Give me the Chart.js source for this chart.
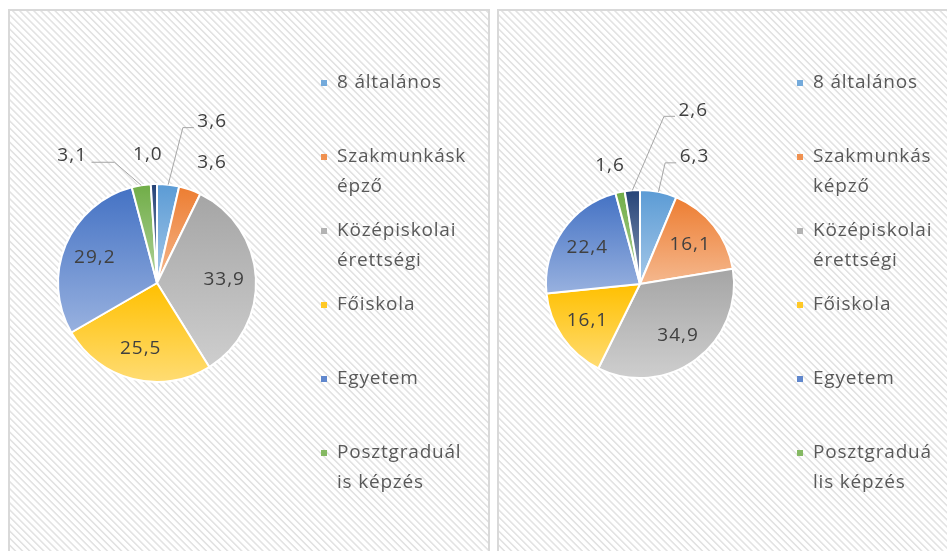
<!DOCTYPE html>
<html><head><meta charset="utf-8">
<script src="https://cdn.jsdelivr.net/npm/chart.js@4/dist/chart.umd.min.js"></script>
<style>
html,body{margin:0;padding:0;background:#fff;width:947px;height:551px;overflow:hidden;position:relative;}
.panel{position:absolute;top:9px;height:560px;border:2px solid #d9d9d9;
  background:repeating-linear-gradient(45deg,#ffffff 0px,#ffffff 1.8px,#e3e3e3 2.6px,#e3e3e3 3.4px,#ffffff 4.2px,#ffffff 5px);}
#p1{left:8px;width:478px;}
#p2{left:497px;width:460px;}
canvas{position:absolute;left:0;top:0;}
</style></head><body>
<div class="panel" id="p1"><canvas id="c1" width="478" height="540"></canvas></div>
<div class="panel" id="p2"><canvas id="c2" width="448" height="540"></canvas></div>
<script>
// ---- data ----
const categories = ['8 általános','Szakmunkásképző','Középiskolai érettségi','Főiskola','Egyetem','Posztgraduális képzés','Egyéb'];
const valuesLeft  = [3.6, 3.6, 33.9, 25.5, 29.2, 3.1, 1.0];
const valuesRight = [6.3, 16.1, 34.9, 16.1, 22.4, 1.6, 2.6];
const legendLeft  = [['8 általános'],['Szakmunkásk','épző'],['Középiskolai','érettségi'],['Főiskola'],['Egyetem'],['Posztgraduál','is képzés']];
const legendRight = [['8 általános'],['Szakmunkás','képző'],['Középiskolai','érettségi'],['Főiskola'],['Egyetem'],['Posztgraduá','lis képzés']];
const colors = ['#5B9BD5','#ED7D31','#A5A5A5','#FFC000','#4472C4','#70AD47','#264478'];
// label placement for small slices (nudge from slice edge midpoint)
const outsideLeft  = {0:{dx:44,dy:-63,leader:true},1:{dx:22,dy:-27},5:{dx:-69,dy:-30,leader:true},6:{dx:-6,dy:-29}};
const outsideRight = {0:{dx:36,dy:-35,leader:true},5:{dx:-10,dy:-27},6:{dx:61,dy:-80,leader:true}};

function fmt(v){ return v.toFixed(1).replace('.', ','); }
function lighten(hex, t){
  const n = parseInt(hex.slice(1),16); const r=n>>16, g=(n>>8)&255, b=n&255;
  const f=c=>Math.round(c+(255-c)*t); return 'rgb('+f(r)+','+f(g)+','+f(b)+')';
}

const excelPie = {
  id:'excelPie',
  beforeDatasetsDraw(chart){
    const ctx = chart.ctx, meta = chart.getDatasetMeta(0);
    meta.data.forEach((arc,i)=>{
      const p = arc.getProps(['x','y','startAngle','endAngle','outerRadius']);
      const ys=[p.y, p.y+p.outerRadius*Math.sin(p.startAngle), p.y+p.outerRadius*Math.sin(p.endAngle)];
      for (const a of [-Math.PI/2, Math.PI/2, 3*Math.PI/2]) if (a>=p.startAngle && a<=p.endAngle) ys.push(p.y+p.outerRadius*Math.sin(a));
      const y0=Math.min(...ys), y1=Math.max(...ys);
      const g = ctx.createLinearGradient(0,y0,0,y1+0.01);
      g.addColorStop(0, colors[i]); g.addColorStop(1, lighten(colors[i],0.45));
      arc.options.backgroundColor = g;
    });
  },
  afterDatasetsDraw(chart, args, opts){
    const ctx = chart.ctx, meta = chart.getDatasetMeta(0), vals = chart.data.datasets[0].data;
    ctx.save();
    ctx.font = '19px "Open Sans"'; ctx.letterSpacing = '1px';
    ctx.textAlign='center'; ctx.textBaseline='middle';
    meta.data.forEach((arc,i)=>{
      const p = arc.getProps(['x','y','startAngle','endAngle','outerRadius']);
      const mid=(p.startAngle+p.endAngle)/2, R=p.outerRadius;
      const txt=fmt(vals[i]);
      const o=opts.outside[i];
      ctx.fillStyle='#404040';
      if(!o){ ctx.fillText(txt, p.x+Math.cos(mid)*R*0.68, p.y+Math.sin(mid)*R*0.68); return; }
      const ex=p.x+Math.cos(mid)*R, ey=p.y+Math.sin(mid)*R;
      const lx=ex+o.dx, ly=ey+o.dy;
      ctx.fillText(txt, lx, ly);
      if(o.leader){
        const w=ctx.measureText(txt).width-1;
        ctx.strokeStyle='#a6a6a6'; ctx.lineWidth=1; ctx.beginPath();
        if(lx>ex){ const left=lx-w/2; ctx.moveTo(ex,ey); ctx.lineTo(left-15,ly+6); ctx.lineTo(left-4,ly+6); }
        else { const right=lx+w/2; ctx.moveTo(right+5,ly+7); ctx.lineTo(right+28,ly+7); ctx.lineTo(ex,ey); }
        ctx.stroke();
      }
    });
    ctx.restore();
  },
  afterDraw(chart, args, opts){
    const ctx=chart.ctx; ctx.save();
    ctx.font='19px "Open Sans"'; ctx.letterSpacing='0.8px';
    ctx.textAlign='left'; ctx.textBaseline='middle';
    const x0=chart.chartArea.right+opts.legendDx;
    opts.legend.forEach((lines,i)=>{
      const yy=opts.legendTop+i*74;
      ctx.fillStyle=lighten(colors[i],0.15); ctx.fillRect(x0, yy-3, 6, 6);
      ctx.fillStyle='#595959';
      lines.forEach((ln,j)=>ctx.fillText(ln, x0+16, yy+j*30));
    });
    ctx.restore();
  }
};

function makePie(id, values, legend, outside, padding, legendDx){
  return new Chart(document.getElementById(id), {
    type:'pie',
    data:{ labels:categories, datasets:[{ data:values, backgroundColor:colors.slice(), borderColor:'#ffffff', borderWidth:2, hoverBorderWidth:2 }]},
    options:{
      responsive:false, animation:false, events:[],
      layout:{padding:padding},
      plugins:{ legend:{display:false}, tooltip:{enabled:false},
        excelPie:{outside:outside, legend:legend, legendDx:legendDx, legendTop:72} }
    },
    plugins:[excelPie]
  });
}
makePie('c1', valuesLeft, legendLeft, outsideLeft, {left:47,right:231,top:172,bottom:168}, 64);
makePie('c2', valuesRight, legendRight, outsideRight, {left:46,right:212,top:178,bottom:172}, 62);
</script>
</body></html>
